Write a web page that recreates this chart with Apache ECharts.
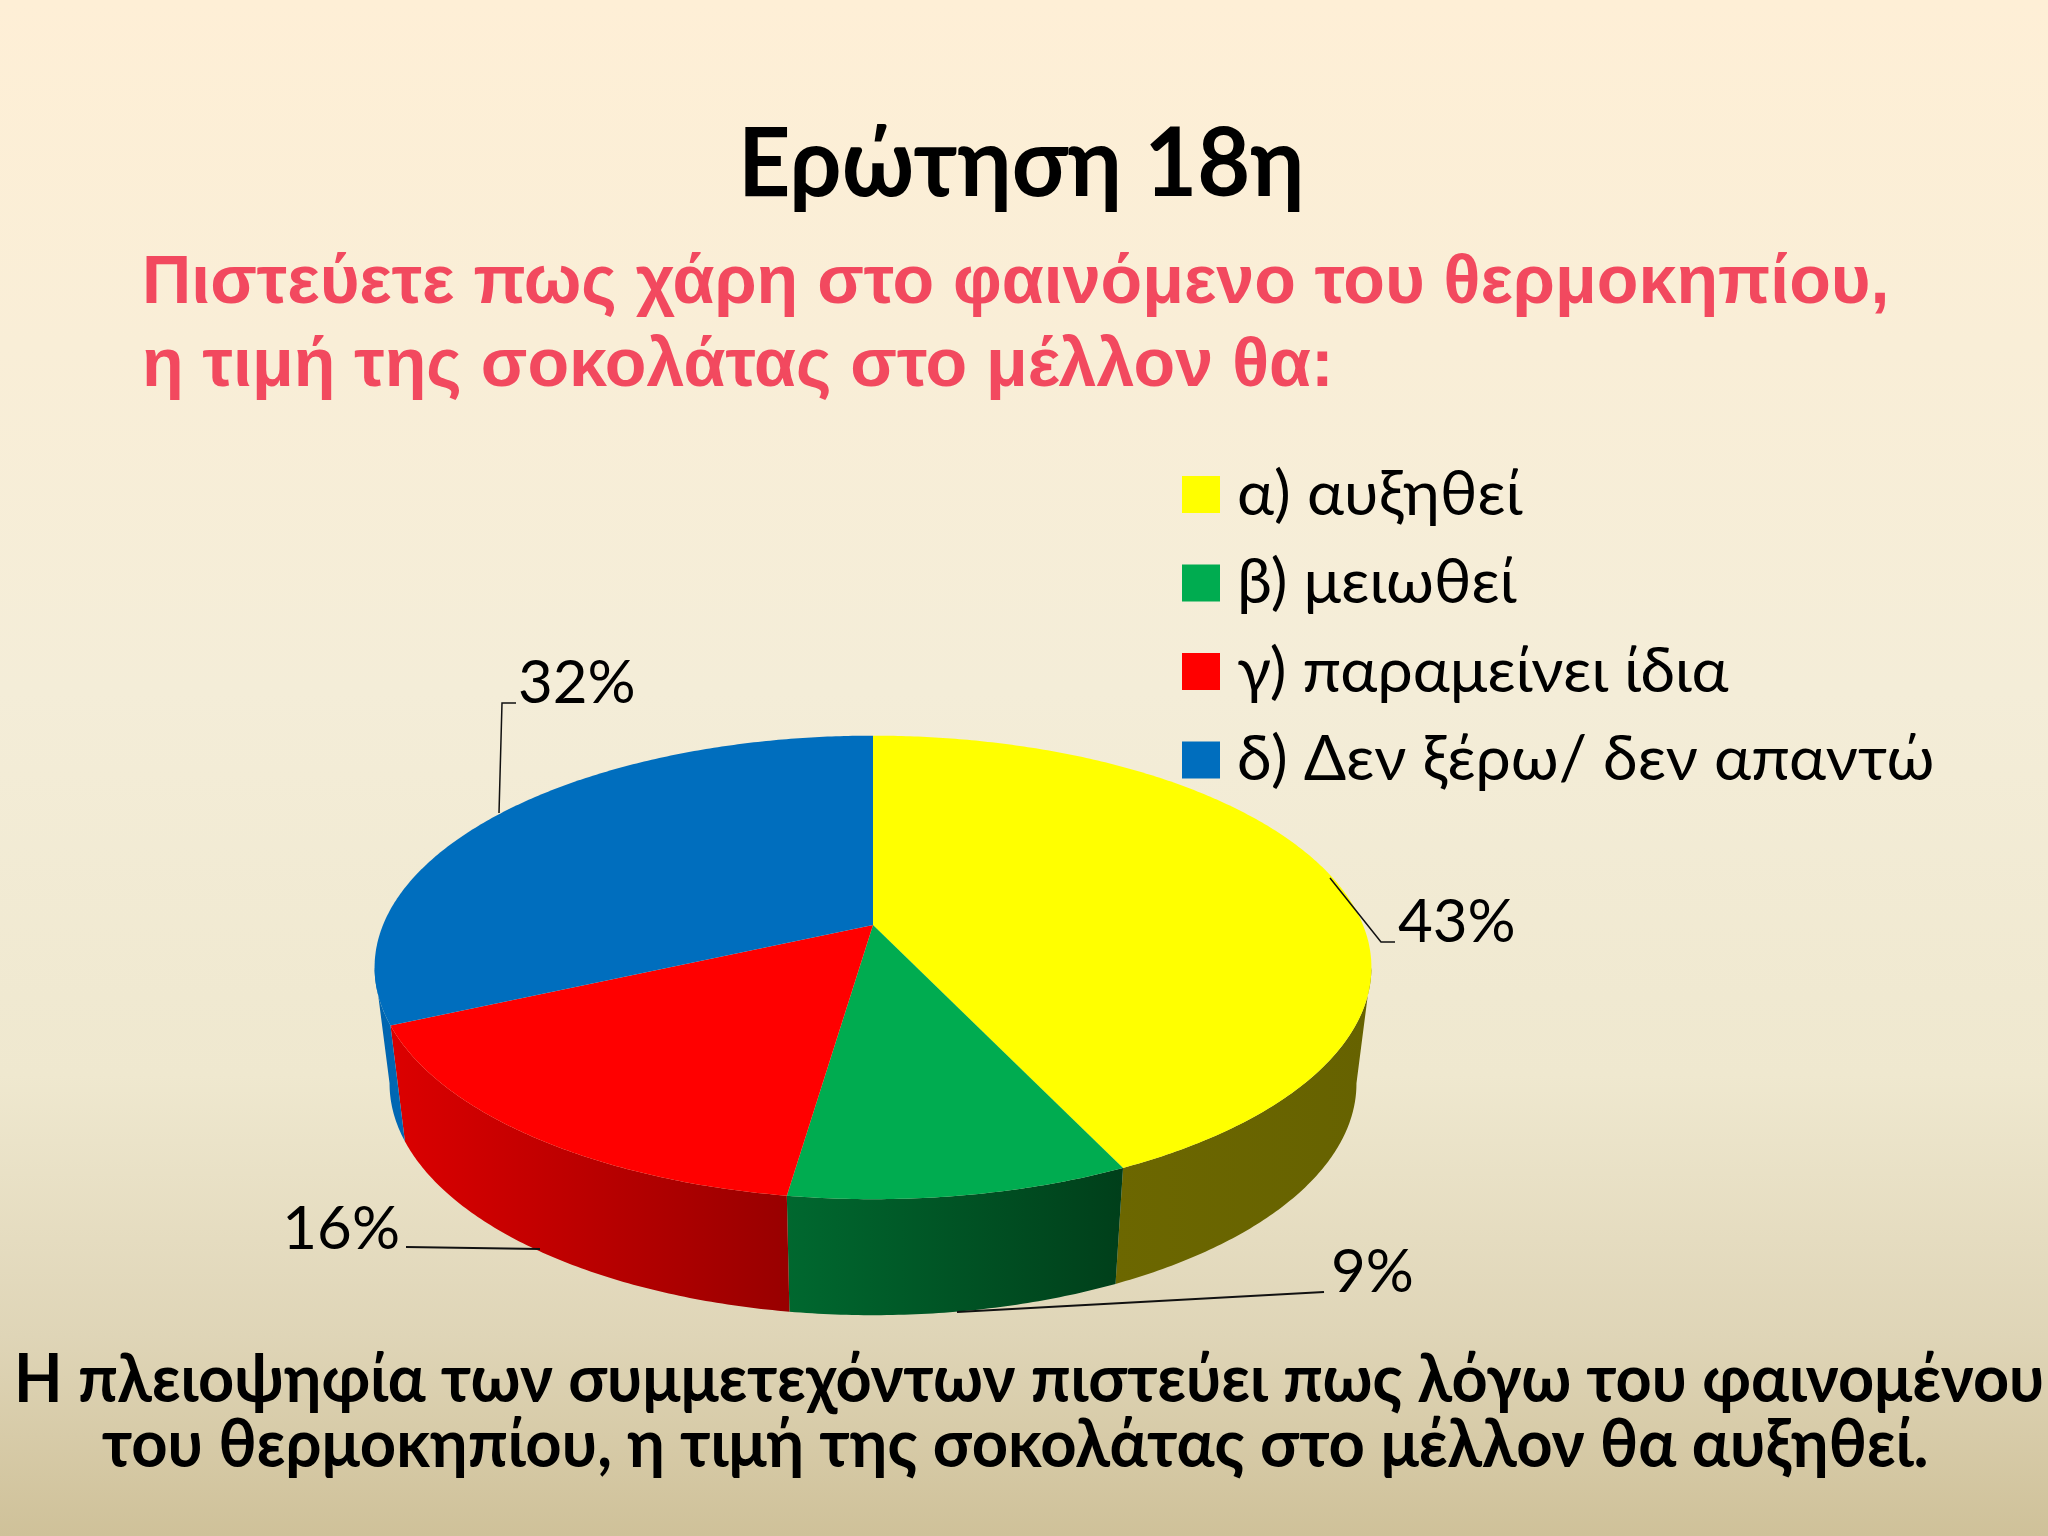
<!DOCTYPE html>
<html><head><meta charset="utf-8"><style>html,body{margin:0;padding:0;background:#fff}#c{width:2048px;height:1536px}</style>
<script src="https://cdn.jsdelivr.net/npm/echarts@6/dist/echarts.min.js"></script></head><body><div id="c"></div>
<script>
const categories = ['α) αυξηθεί','β) μειωθεί','γ) παραμείνει ίδια','δ) Δεν ξέρω/ δεν απαντώ'];
const values = [43, 9.3, 15.9, 31.8];
const topColors = ['#FFFF00','#00AC50','#FF0000','#006EBE'];
const wallColors = [['#6C6700','#666200'],['#00682F','#003F1A'],['#DC0000','#980000'],['#0064AE','#0068B5']];
const heading = 'Ερώτηση 18η';
const questionLines = ['Πιστεύετε πως χάρη στο φαινόμενο του θερμοκηπίου,','η τιμή της σοκολάτας στο μέλλον θα:'];
const conclusionLines = ['Η πλειοψηφία των συμμετεχόντων πιστεύει πως λόγω του φαινομένου','του θερμοκηπίου, η τιμή της σοκολάτας στο μέλλον θα αυξηθεί.'];

const F = 'Lato, "Noto Sans", sans-serif';
const P = {cx:873, cy:925, A:490, B:224, k:0.183, sx:0.97, dy:116};
const visFrom = (180-79.5)*Math.PI/180, visTo = (180+79.5)*Math.PI/180;
function proj(t, low){
  const u=Math.sin(t), v=-Math.cos(t), d=1-P.k*v, s=low?P.sx:1;
  return [P.cx+s*P.A*u/d, P.cy+(low?P.dy:0)+P.B*v/d];
}
function arc(a,b,low){
  const n=Math.max(2,Math.ceil((b-a)/0.01)), r=[];
  for(let i=0;i<=n;i++) r.push(proj(a+(b-a)*i/n,low));
  return r;
}
const total = values.reduce((s,v)=>s+v,0);
const leaders = [
  {pts:[[1330,878],[1381,942],[1395,942]], x:1398, y:923, align:'left', w:1.5},
  {pts:[[957,1312],[1324,1292]], x:1331, y:1273, align:'left', w:2},
  {pts:[[540,1249],[406,1247]], x:400, y:1230, align:'right', w:2},
  {pts:[[499,813],[502,703],[516,703]], x:518, y:684, align:'left', w:1.5}
];
function renderSlice(i){
  return function(params, api){
    const v = api.value(0);
    let before = 0; for(let j=0;j<i;j++) before += values[j];
    const a = before/total*2*Math.PI, b = (before+v)/total*2*Math.PI;
    const L = leaders[i], kids = [];
    const wa = Math.max(a,visFrom), wb = Math.min(b,visTo);
    if (wb > wa) {
      kids.push({type:'polygon', z2:1, shape:{points:arc(wa,wb,false).concat(arc(wa,wb,true).reverse())},
        style:{fill:{type:'linear',x:0,y:0,x2:1,y2:0,colorStops:[{offset:0,color:wallColors[i][0]},{offset:1,color:wallColors[i][1]}]}}});
    }
    kids.push({type:'polygon', z2:10, shape:{points:[[P.cx,P.cy]].concat(arc(a,b,false))}, style:{fill:topColors[i]}});
    kids.push({type:'polyline', z2:20, shape:{points:L.pts}, style:{fill:null,stroke:'#111',lineWidth:L.w}});
    kids.push({type:'text', z2:20, x:L.x, y:L.y, style:{text:Math.round(v)+'%',font:'60px '+F,fill:'#000',textAlign:L.align,textVerticalAlign:'middle'}});
    return {type:'group', children:kids};
  };
}
const boldText = (text,x,y,size,scaleX)=>({type:'text',x,y,scaleX,silent:true,style:{text,fontFamily:'Lato, "Noto Sans", sans-serif',fontSize:size,fontWeight:'bold',fill:'#000',textAlign:'left',textVerticalAlign:'middle'}});
const sub = (text,top)=>({text,left:137,top,textStyle:{fontFamily:'"Liberation Sans"',fontSize:68.2,fontWeight:'bold',color:'#F2495F'}});
const option = {
  animation:false,
  backgroundColor:{type:'linear',x:0,y:0,x2:0,y2:1,colorStops:[
    {offset:0,color:'#FEEFD6'},{offset:0.45,color:'#F4EDD8'},{offset:0.7,color:'#EFE8CF'},{offset:0.87,color:'#DFD5B7'},{offset:1,color:'#CFC199'}]},
  title:[sub(questionLines[0],245),sub(questionLines[1],328)],
  graphic:[
    boldText(heading,738,165,96,0.952),
    boldText(conclusionLines[0],14,1381,66,0.955),
    boldText(conclusionLines[1],102,1446,66,0.96)
  ],
  legend:{orient:'vertical',left:1177,top:458,icon:'rect',itemWidth:38,itemHeight:37,itemGap:25.5,
    textStyle:{fontFamily:F,fontSize:62.7,color:'#000',padding:[0,0,0,12]},data:categories},
  series:categories.map((name,i)=>({type:'custom',name,coordinateSystem:'none',itemStyle:{color:topColors[i]},data:[[values[i]]],renderItem:renderSlice(i),silent:true}))
};
const chart = echarts.init(document.getElementById('c'),null,{renderer:'canvas',width:2048,height:1536});
chart.setOption(option);
</script></body></html>
